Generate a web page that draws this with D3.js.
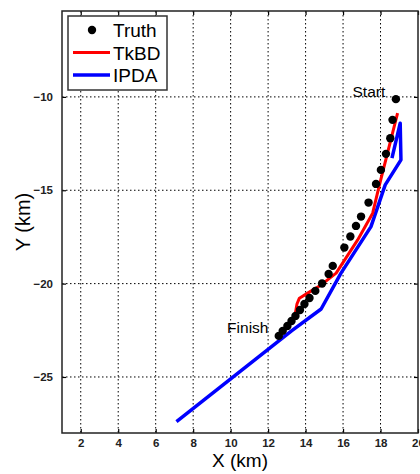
<!DOCTYPE html>
<html>
<head>
<meta charset="utf-8">
<script src="https://cdn.jsdelivr.net/npm/d3@7"></script>
<style>
  body { margin: 0; background: white; overflow: hidden; }
  text { font-family: "Liberation Sans", Arial, sans-serif; }
</style>
</head>
<body>
<div id="chart"></div>
<script>
// track data (km)
var truthX = [18.82, 18.64, 18.52, 18.29, 18.02, 17.76, 17.36, 16.96, 16.69, 16.39, 16.07,
  15.45, 15.23, 14.88, 14.52, 14.21, 13.94, 13.70, 13.46, 13.25, 13.03, 12.78, 12.57];
var truthY = [-10.12, -11.23, -12.21, -13.05, -13.91, -14.66, -15.66, -16.41, -16.91, -17.48, -18.07,
  -19.05, -19.48, -19.99, -20.39, -20.77, -21.09, -21.41, -21.73, -22.0, -22.27, -22.53, -22.80];

var tkbdX = [18.91, 17.90, 17.58, 16.78, 15.63, 14.83, 14.11, 13.67, 13.54, 13.41, 13.28];
var tkbdY = [-10.87, -14.89, -16.23, -17.66, -19.44, -20.07, -20.51, -20.78, -21.09, -21.85, -22.05];

var ipdaX = [18.61, 19.05, 19.09, 18.25, 17.49, 15.89, 14.83, 13.25, 7.11];
var ipdaY = [-13.28, -11.41, -13.37, -14.71, -16.95, -19.44, -21.36, -22.53, -27.39];

var xTicks = [2, 4, 6, 8, 10, 12, 14, 16, 18, 20];
var yTicks = [-10, -15, -20, -25];

var legendNames = ['Truth', 'TkBD', 'IPDA'];

var width = 420, height = 474;
var pLeft = 62, pRight = 418, pTop = 11, pBottom = 433;

var x = d3.scaleLinear().domain([1, 20]).range([pLeft, pRight]);
var y = d3.scaleLinear().domain([-28, -5.4]).range([pBottom, pTop]);

var svg = d3.select('#chart').append('svg')
  .attr('width', width)
  .attr('height', height);

// grid
var grid = svg.append('g')
  .attr('stroke', 'black')
  .attr('stroke-width', 1)
  .attr('stroke-dasharray', '1.5,2.5');

grid.selectAll('.vgrid').data(xTicks.filter(function(d){ return d < 20; }))
  .enter().append('line')
  .attr('x1', function(d){ return x(d); })
  .attr('x2', function(d){ return x(d); })
  .attr('y1', pTop)
  .attr('y2', pBottom);

grid.selectAll('.hgrid').data(yTicks)
  .enter().append('line')
  .attr('x1', pLeft)
  .attr('x2', pRight)
  .attr('y1', function(d){ return y(d); })
  .attr('y2', function(d){ return y(d); });

// axes (ticks inward, box on all sides)
var fmt = function(d){ return d < 0 ? '\u2212' + Math.abs(d) : '' + d; };

svg.append('g')
  .attr('transform', 'translate(0,' + pBottom + ')')
  .call(d3.axisBottom(x).tickValues(xTicks).tickSizeInner(-4).tickSizeOuter(0).tickPadding(6).tickFormat(fmt));

svg.append('g')
  .attr('transform', 'translate(0,' + pTop + ')')
  .call(d3.axisTop(x).tickValues(xTicks).tickSizeInner(-4).tickSizeOuter(0).tickFormat(''));

svg.append('g')
  .attr('transform', 'translate(' + pLeft + ',0)')
  .call(d3.axisLeft(y).tickValues(yTicks).tickSizeInner(-4).tickSizeOuter(0).tickPadding(9).tickFormat(fmt));

svg.append('g')
  .attr('transform', 'translate(' + pRight + ',0)')
  .call(d3.axisRight(y).tickValues(yTicks).tickSizeInner(-4).tickSizeOuter(0).tickFormat(''));

svg.selectAll('.domain').remove();
svg.selectAll('.tick line').attr('stroke', 'black').attr('stroke-width', 1.2);
svg.selectAll('.tick text')
  .attr('fill', '#222')
  .style('font-size', '11.5px')
  .style('font-weight', 'bold');

svg.append('rect')
  .attr('x', pLeft)
  .attr('y', pTop)
  .attr('width', pRight - pLeft)
  .attr('height', pBottom - pTop)
  .attr('fill', 'none')
  .attr('stroke', '#222')
  .attr('stroke-width', 1.5);

// tracks
var line = d3.line()
  .x(function(d){ return x(d[0]); })
  .y(function(d){ return y(d[1]); });

svg.append('path')
  .datum(d3.zip(ipdaX, ipdaY))
  .attr('d', line)
  .attr('fill', 'none')
  .attr('stroke', '#0000ff')
  .attr('stroke-width', 3.5)
  .attr('stroke-linejoin', 'round');

svg.append('path')
  .datum(d3.zip(tkbdX, tkbdY))
  .attr('d', line)
  .attr('fill', 'none')
  .attr('stroke', '#ff0000')
  .attr('stroke-width', 3)
  .attr('stroke-linejoin', 'round');

svg.selectAll('.truth').data(d3.zip(truthX, truthY))
  .enter().append('circle')
  .attr('class', 'truth')
  .attr('cx', function(d){ return x(d[0]); })
  .attr('cy', function(d){ return y(d[1]); })
  .attr('r', 4.2)
  .attr('fill', 'black');

// annotations
svg.append('text')
  .attr('x', x(truthX[0]) - 27)
  .attr('y', y(truthY[0]) - 2)
  .attr('text-anchor', 'middle')
  .style('font-size', '15.5px')
  .text('Start');

svg.append('text')
  .attr('x', x(truthX[truthX.length - 1]) - 31)
  .attr('y', y(truthY[truthY.length - 1]) - 3)
  .attr('text-anchor', 'middle')
  .style('font-size', '15.5px')
  .text('Finish');

// axis labels
svg.append('text')
  .attr('x', (pLeft + pRight) / 2)
  .attr('y', 467)
  .attr('text-anchor', 'middle')
  .style('font-size', '19px')
  .text('X (km)');

svg.append('text')
  .attr('transform', 'translate(30,222) rotate(-90)')
  .attr('text-anchor', 'middle')
  .style('font-size', '20px')
  .text('Y (km)');

// legend
var legend = svg.append('g').attr('transform', 'translate(68,16)');

legend.append('rect')
  .attr('width', 99)
  .attr('height', 74)
  .attr('fill', 'white')
  .attr('stroke', '#333')
  .attr('stroke-width', 1.5);

var legendY = d3.scalePoint().domain(legendNames).range([14, 59]);

legend.append('circle')
  .attr('cx', 24)
  .attr('cy', legendY('Truth'))
  .attr('r', 4.2)
  .attr('fill', 'black');

legend.append('line')
  .attr('x1', 5).attr('x2', 42)
  .attr('y1', legendY('TkBD')).attr('y2', legendY('TkBD'))
  .attr('stroke', '#ff0000')
  .attr('stroke-width', 3);

legend.append('line')
  .attr('x1', 5).attr('x2', 42)
  .attr('y1', legendY('IPDA')).attr('y2', legendY('IPDA'))
  .attr('stroke', '#0000ff')
  .attr('stroke-width', 3.5);

legend.selectAll('.ltext').data(legendNames)
  .enter().append('text')
  .attr('x', 45)
  .attr('y', function(d){ return legendY(d) + 7; })
  .style('font-size', '19px')
  .text(function(d){ return d; });
</script>
</body>
</html>
